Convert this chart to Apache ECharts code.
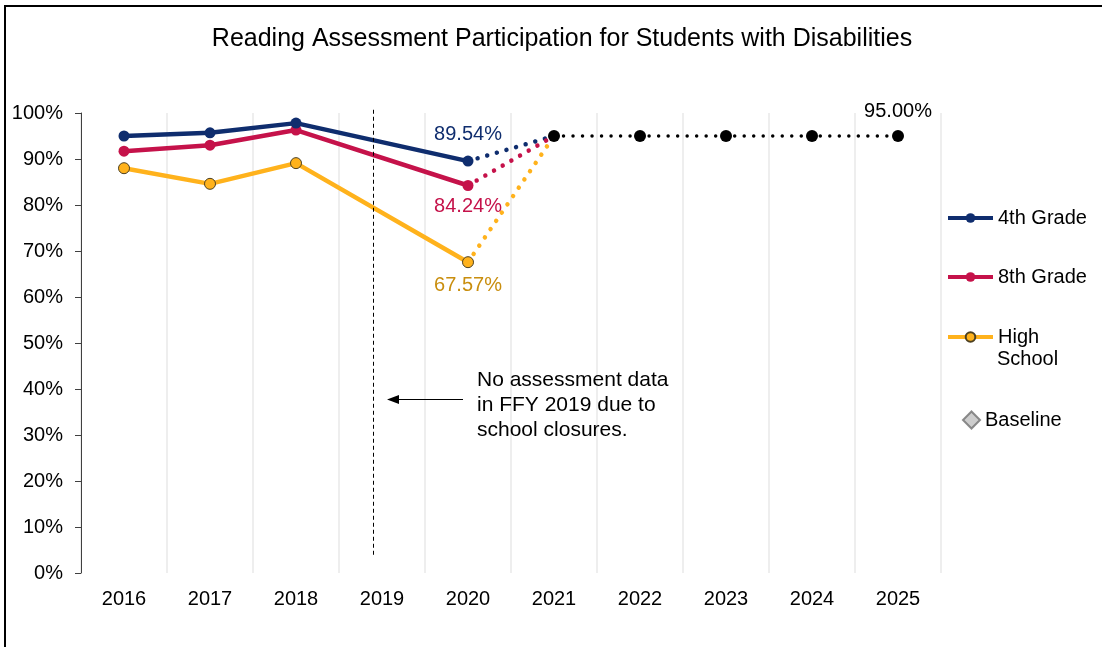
<!DOCTYPE html>
<html>
<head>
<meta charset="utf-8">
<script src="https://cdn.jsdelivr.net/npm/echarts@6/dist/echarts.min.js"></script>
<style>
html,body{margin:0;padding:0;background:#fff;}
#chart{width:1102px;height:647px;}
</style>
</head>
<body>
<div id="chart"></div>
<script>
// ---- data ----
const years = ['2016','2017','2018','2019','2020','2021','2022','2023','2024','2025'];
const grade4 = [95.0, 95.7, 97.8, null, 89.54];
const grade8 = [91.7, 93.0, 96.3, null, 84.24];
const highSchool = [88.0, 84.6, 89.1, null, 67.57];
const targetYears = ['2021','2022','2023','2024','2025'];
const targets = [95, 95, 95, 95, 95];
const yTicks = [0, 10, 20, 30, 40, 50, 60, 70, 80, 90, 100];
const noDataYear = '2019';

const C4 = '#0F2D6E', C8 = '#C5124A', CHS = '#FFB21C', CHSLabel = '#C98E0E';
const FONT = '"Liberation Sans", Arial, sans-serif';

function full(arr) {
  return years.map((y, i) => (i < arr.length ? arr[i] : null));
}
function withLabel(arr, idx, color, pos, dist) {
  return full(arr).map((v, i) => i === idx ? {
    value: v,
    label: { show: true, position: pos, distance: dist, color: color, fontSize: 20, fontFamily: FONT,
             formatter: p => p.value.toFixed(2) + '%' }
  } : v);
}
function bridge(arr) {
  const last = arr.length - 1;
  const t = years.indexOf(targetYears[0]);
  return years.map((y, i) => i === last ? arr[last] : (i === t ? targets[0] : null));
}
const targetFull = years.map(y => { const k = targetYears.indexOf(y); return k >= 0 ? targets[k] : null; });

const dotted = (color, w, gap) => ({ color: color, width: w, type: [0.01, gap], cap: 'round' });
const legendText = { fontSize: 20, color: '#000', fontFamily: FONT };

const chart = echarts.init(document.getElementById('chart'), null, { renderer: 'canvas' });
const option = {
  animation: false,
  backgroundColor: '#fff',
  textStyle: { fontFamily: FONT },
  title: {
    text: 'Reading Assessment Participation for Students with Disabilities',
    left: 557, top: 22, textAlign: 'center',
    textStyle: { fontSize: 25, fontWeight: 'normal', color: '#000', fontFamily: FONT }
  },
  grid: { left: 81, right: 161, top: 113, bottom: 74, containLabel: false },
  xAxis: {
    type: 'category', data: years, boundaryGap: true,
    axisLine: { show: false }, axisTick: { show: false },
    axisLabel: { color: '#000', fontSize: 20, margin: 16, fontFamily: FONT },
    splitLine: { show: true, lineStyle: { color: '#E8E8E8', width: 1.5 } }
  },
  yAxis: {
    type: 'value', min: 0, max: 100, interval: 10,
    axisLine: { show: true, lineStyle: { color: '#404040', width: 1 } },
    axisTick: { show: true, inside: false, length: 6, lineStyle: { color: '#404040' } },
    axisLabel: { color: '#000', fontSize: 20, margin: 18, fontFamily: FONT,
                 formatter: v => yTicks.includes(v) ? v + '%' : '' },
    splitLine: { show: false }
  },
  legend: [
    { data: ['4th Grade'], left: 946, top: 208, padding: 0, itemWidth: 45, itemHeight: 12,
      lineStyle: { width: 4 }, textStyle: legendText },
    { data: ['8th Grade'], left: 946, top: 267, padding: 0, itemWidth: 45, itemHeight: 12,
      lineStyle: { width: 4 }, textStyle: legendText },
    { data: ['High School'], left: 946, top: 327, padding: 0, itemWidth: 45, itemHeight: 12,
      lineStyle: { width: 4 }, formatter: () => 'High', textStyle: legendText },
    { data: ['Baseline'], left: 962, top: 410, padding: 0, itemWidth: 17, itemHeight: 17, icon: 'diamond',
      textStyle: legendText }
  ],
  series: [
    { name: '4th Grade dotted', type: 'line', data: bridge(grade4), symbol: 'none',
      lineStyle: dotted(C4, 4.5, 10), z: 2 },
    { name: '8th Grade dotted', type: 'line', data: bridge(grade8), symbol: 'none',
      lineStyle: dotted(C8, 4.5, 10), z: 2 },
    { name: 'High School dotted', type: 'line', data: bridge(highSchool), symbol: 'none',
      lineStyle: dotted(CHS, 4.5, 10), z: 2 },
    { name: 'High School', type: 'line', connectNulls: true,
      data: withLabel(highSchool, 4, CHSLabel, 'bottom', 7),
      symbol: 'circle', symbolSize: 11, color: CHS,
      itemStyle: { color: CHS, borderColor: '#4D4020', borderWidth: 1 },
      lineStyle: { color: CHS, width: 4.5 }, z: 3 },
    { name: '8th Grade', type: 'line', connectNulls: true,
      data: withLabel(grade8, 4, C8, 'bottom', 5),
      symbol: 'circle', symbolSize: 11, color: C8,
      itemStyle: { color: C8 }, lineStyle: { color: C8, width: 4.5 }, z: 4 },
    { name: '4th Grade', type: 'line', connectNulls: true,
      data: withLabel(grade4, 4, C4, 'top', 11),
      symbol: 'circle', symbolSize: 11, color: C4,
      itemStyle: { color: C4 }, lineStyle: { color: C4, width: 4.5 }, z: 5 },
    { name: 'Target', type: 'line',
      data: targetFull.map((v, i) => i === years.length - 1 ? {
        value: v, label: { show: true, position: 'top', distance: 9, color: '#000', fontSize: 20,
                           fontFamily: FONT, formatter: p => p.value.toFixed(2) + '%' } } : v),
      symbol: 'circle', symbolSize: 12, color: '#000',
      itemStyle: { color: '#000' }, lineStyle: dotted('#000', 3.5, 9.5), z: 6 },
    { name: 'Baseline', type: 'scatter', data: [], symbol: 'diamond', color: '#BFBFBF',
      itemStyle: { color: '#C0C0C0', borderColor: '#707070', borderWidth: 1.5 } }
  ]
};
chart.setOption(option);

// dashed separator near the missing year, located through the axis scales
const pA = chart.convertToPixel({ xAxisIndex: 0, yAxisIndex: 0 }, [noDataYear, 100.7]);
const pB = chart.convertToPixel({ xAxisIndex: 0, yAxisIndex: 0 }, [noDataYear, 3.5]);
const pPrev = chart.convertToPixel({ xAxisIndex: 0, yAxisIndex: 0 }, [years[years.indexOf(noDataYear) - 1], 0]);
const sepX = Math.round(pA[0] - 0.1 * (pA[0] - pPrev[0])) + 0.5;

chart.setOption({
  graphic: [
    { type: 'polyline', shape: { points: [[5, 647], [5, 6], [1102, 6]] },
      style: { stroke: '#000', lineWidth: 2, fill: null }, z: 100 },
    { type: 'line', shape: { x1: sepX, y1: pA[1], x2: sepX, y2: pB[1] },
      style: { stroke: '#000', lineWidth: 1, lineDash: [4, 3] }, z: 50 },
    { type: 'text', left: 997, top: 349, z: 50,
      style: { text: 'School', fontSize: 20, fill: '#000', fontFamily: FONT } },
    { type: 'line', shape: { x1: 396, y1: 399.5, x2: 463, y2: 399.5 }, z: 50,
      style: { stroke: '#000', lineWidth: 1 } },
    { type: 'polygon', shape: { points: [[387, 399.5], [399, 395], [399, 404]] }, z: 50,
      style: { fill: '#000' } },
    { type: 'text', left: 477, top: 368, z: 50,
      style: { text: 'No assessment data\nin FFY 2019 due to\nschool closures.', fontSize: 21,
               lineHeight: 25, fill: '#000', fontFamily: FONT } }
  ]
});
</script>
</body>
</html>
